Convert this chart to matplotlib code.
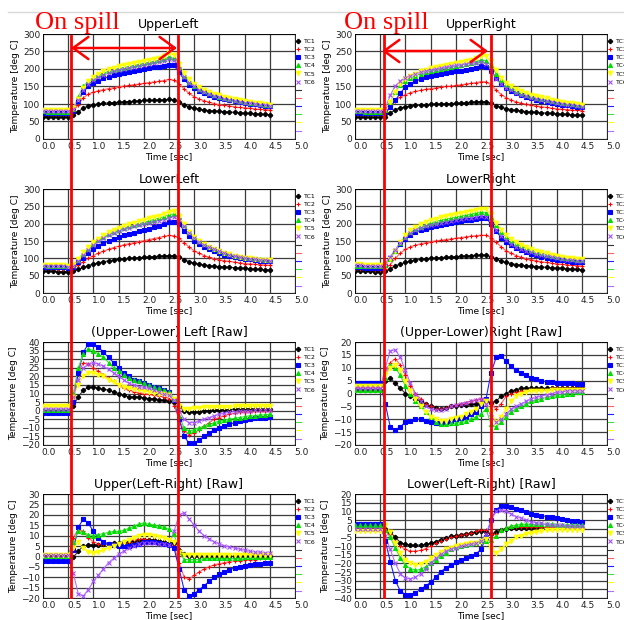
import matplotlib
matplotlib.use('Agg')
import matplotlib.pyplot as plt
from matplotlib.lines import Line2D
from matplotlib.patches import FancyArrowPatch
from matplotlib.transforms import ScaledTranslation

# time axis [sec]
time = [0.0, 0.1, 0.2, 0.3, 0.4, 0.5, 0.6, 0.7, 0.8, 0.9,
        1.0, 1.1, 1.2, 1.3, 1.4, 1.5, 1.6, 1.7, 1.8, 1.9,
        2.0, 2.1, 2.2, 2.3, 2.4, 2.5, 2.6, 2.7, 2.8, 2.9,
        3.0, 3.1, 3.2, 3.3, 3.4, 3.5, 3.6, 3.7, 3.8, 3.9,
        4.0, 4.1, 4.2, 4.3, 4.4, 4.5]

tc_names = ['TC1', 'TC2', 'TC3', 'TC4', 'TC5', 'TC6']

# temperatures [deg C], one row per thermocouple TC1..TC6
upper_left = [
    [64,64,63,63,63,63,68,78,88,95,98,100,102,103,104,105,106,107,108,109,110,110,111,112,112,113,112,106,98,92,88,85,83,81,80,79,78,77,76,75,74,73,72,71,70,69],
    [71,71,70,70,70,70,78,98,118,128,134,138,141,144,147,149,151,153,155,157,159,161,163,165,167,170,168,158,143,130,121,114,109,105,101,98,96,94,92,90,89,88,86,85,84,83],
    [74,74,73,73,73,73,80,108,135,150,160,167,173,178,182,186,189,192,195,198,200,203,205,207,209,212,210,190,170,155,145,137,130,125,121,117,114,111,108,105,103,101,99,97,95,93],
    [79,78,78,77,77,77,86,120,150,165,175,182,188,193,197,201,204,207,210,213,216,219,222,225,228,234,230,205,180,163,152,143,136,130,125,121,117,114,111,108,106,104,102,100,98,97],
    [84,83,83,82,82,82,88,115,145,165,177,186,193,199,204,208,211,214,217,220,223,226,229,232,236,245,240,215,188,170,157,148,140,134,129,125,121,117,114,111,108,106,104,102,100,98],
    [81,80,80,80,80,80,86,112,140,157,168,176,183,188,193,197,200,203,206,209,212,215,218,221,224,229,225,200,177,160,150,141,134,128,123,119,115,112,109,106,104,102,100,98,96,95],
]

upper_right = [
    [63,63,63,62,62,62,64,74,84,89,92,94,96,97,98,99,100,100,101,101,102,103,104,105,106,107,106,102,95,90,87,84,82,80,78,77,76,75,74,73,72,71,70,69,68,68],
    [72,72,71,71,71,71,74,90,108,120,127,132,136,139,142,144,146,148,150,151,153,155,157,159,161,164,163,155,140,127,118,111,106,102,99,96,94,92,90,88,86,85,84,83,82,81],
    [75,75,74,74,74,74,78,92,110,132,148,158,165,171,176,180,183,186,188,190,193,195,198,201,204,208,207,195,175,158,147,138,131,125,120,116,112,109,106,103,100,98,96,94,92,90],
    [79,79,78,78,78,78,82,105,135,155,167,175,181,186,190,194,197,200,203,206,209,212,215,218,221,226,224,210,187,168,155,145,138,132,127,122,118,115,112,109,106,104,102,100,98,96],
    [84,84,83,83,83,83,86,105,135,157,170,180,187,193,198,202,206,209,212,215,218,221,224,227,231,238,237,222,196,175,161,151,143,137,131,127,123,119,116,112,109,106,104,102,100,98],
    [80,80,79,79,79,79,88,125,152,166,175,181,186,190,194,197,200,203,206,208,210,212,214,216,218,221,215,195,172,157,147,139,132,127,122,118,114,111,108,105,102,100,98,96,94,92],
]

lower_left = [
    [64,63,63,62,62,61,63,68,74,79,84,87,90,93,95,97,98,100,101,102,103,104,105,106,107,108,107,103,96,90,86,83,81,79,77,76,75,74,73,72,71,70,69,68,67,66],
    [72,71,71,70,70,69,71,80,90,100,108,115,121,126,131,135,139,142,145,148,151,154,157,160,163,166,165,158,145,132,122,114,108,103,99,96,93,91,89,87,85,84,83,82,81,80],
    [76,75,75,74,74,73,76,88,102,115,126,135,143,150,156,161,166,170,174,178,182,186,190,194,198,204,205,198,180,163,150,140,132,126,120,115,111,107,104,101,99,97,95,93,92,91],
    [80,79,79,78,78,77,80,95,112,128,141,152,161,169,176,182,187,192,196,200,204,208,212,216,220,226,228,218,196,176,162,150,141,133,127,121,116,112,108,105,102,100,98,97,96,95],
    [82,81,81,80,80,79,82,98,117,133,146,157,167,175,182,188,194,199,203,207,211,215,219,223,228,234,236,222,198,177,162,150,141,133,127,121,116,112,108,105,102,100,98,96,95,94],
    [79,78,78,77,77,76,79,93,110,125,138,149,158,166,173,179,184,188,192,196,200,203,206,209,212,217,220,212,192,173,159,148,139,132,126,120,115,111,107,104,101,99,97,95,94,93],
]

lower_right = [
    [64,64,63,63,62,62,63,70,78,84,88,92,95,97,99,100,101,102,103,104,105,106,107,108,109,110,109,105,98,92,88,85,82,80,78,77,76,75,74,73,72,71,70,69,68,67],
    [69,69,68,68,67,67,70,82,100,115,126,133,138,142,145,148,150,152,154,156,158,160,162,164,165,167,166,160,147,133,122,114,108,103,99,96,93,90,88,86,84,83,82,80,79,78],
    [74,74,73,73,72,72,80,100,122,140,155,166,175,181,186,190,194,197,200,203,206,208,210,212,214,217,215,200,178,160,148,138,130,124,118,113,109,105,102,99,96,94,92,90,89,88],
    [79,79,78,78,77,77,82,98,122,145,162,175,184,191,197,202,206,210,213,216,219,222,225,228,231,234,232,218,195,175,162,151,142,135,129,124,119,115,111,108,105,102,100,98,96,95],
    [83,83,82,82,81,81,84,98,122,148,167,181,191,199,205,210,214,218,221,224,227,230,233,236,239,243,242,228,203,181,166,155,146,139,132,127,122,118,114,110,107,104,102,100,98,97],
    [80,80,79,79,78,78,86,105,125,145,160,172,181,188,193,197,200,203,206,209,211,213,215,217,219,222,220,205,182,165,152,142,134,128,122,117,113,109,106,103,100,98,96,94,92,91],
]

# raw differences [deg C]
ul_minus_ll = [
    [0,0,0,0,0,0,3,8,12,13.5,14,13,12.5,12,11,10,9,8,8,8,7.5,7,7,6.5,6,5.5,5,3,0,-1,-1,-0.5,0,0,0.5,0.5,0.5,0.5,1,1,1,1,1,1,1,1],
    [0,0,0,0,0,0,8,22,28,27,25,23,21,19,17,15,13,12,11,10.5,10,9.5,9,8.5,8,7,3,-5,-12,-14,-13,-11,-9,-7,-5,-4,-3,-2,-1.5,-1,-0.5,-0.5,0,0,0,0],
    [-1.5,-1.5,-1.5,-1.5,-1.5,-1.5,5,22,34,39,39,37,34,31,28,25,22,20,18,17,16,15,14,13,12,11,6,-5,-15,-19,-19,-17,-15,-13,-11,-10,-9,-8,-7,-6,-5.5,-5,-4.5,-4,-4,-3.5],
    [0.5,0.5,0.5,0.5,0.5,0.5,10,25,33,36,35,33,31,28,25,23,21,19,18,17,16,15,14,13,12,11,7,-3,-10,-12,-11,-10,-9,-8,-7,-6,-5.5,-5,-4.5,-4,-3.5,-3,-3,-2.5,-2.5,-2],
    [2.5,2.5,2.5,2.5,2.5,2.5,8,15,20,22,22,21,20,18,16.5,15,14,13,12.5,12,11.5,11,10.5,10,9.5,9,7,3,1,1,1.5,1.5,2,2,2,2,2,2,2.5,2.5,2.5,2.5,2.5,2.5,2.5,2.5],
    [1,1,1,1,1,1,8,18,25,27,28,27,26,24,22,20,18,16,15,14,13.5,13,12,11,10,9,6,0,-5,-7,-7,-6,-5,-4,-3,-2,-1.5,-1,-0.5,0,0,0,0.5,0.5,0.5,0.5],
]

ur_minus_lr = [
    [1.5,1.5,1.5,1.5,1.5,1.5,5,6,4,2,0,-1,-2,-3,-4,-5,-5.5,-6,-5.5,-5,-5,-4.5,-4.5,-4,-4,-3.5,-3,-3.5,-3,-1,0,1,1.5,2,2,2,2,2,2,2,2,2,2,2,2,2],
    [2.5,2.5,2.5,2.5,2.5,2.5,8,12,13.5,11,7,3,0,-2,-4,-5,-6,-6,-5.5,-5,-4.5,-4,-3.5,-3,-2.5,-2,-2,-4,-6,-4,-1,0,0.5,1,1,1.5,1.5,1.5,1.5,2,2,2,2,2,2,2],
    [4,4,4,4,4,4,-4,-13,-14,-13,-11,-10.5,-10,-10,-10.5,-11,-11.5,-11.5,-11,-10.5,-10,-9.5,-9,-8,-7,-5,-2,8,14,14.5,12.5,10.5,9,8,7,6,5.5,5,4.5,4.5,4,4,4,4,3.5,3.5],
    [1.5,1.5,1.5,1.5,1.5,1.5,6,11,10,7,3,0,-3,-5,-7,-9,-11,-12,-12,-11.5,-11.5,-11,-10.5,-10,-9,-8,-6,-12,-13,-11,-9,-7,-6,-5,-4,-3,-2.5,-2,-1.5,-1,-0.5,-0.5,0,0,0.5,0.5],
    [3,3,3,3,3,3,7,10,11,9,5,1,-2,-5,-7,-9,-10,-10.5,-10.5,-10,-9.5,-9,-8,-7,-6,-4,-3,-7,-11,-9,-6,-3,-1,0,0.5,1,1,1,1,1.5,1.5,1.5,1.5,1.5,1.5,1.5],
    [2,2,2,2,2,2,10,16.5,17,14,9,4,0,-3,-5,-6,-6.5,-6.5,-6,-5,-4.5,-4,-3.5,-3,-2.5,-2,-4,-9,-11,-10,-8,-6,-5,-4,-3,-2,-1.5,-1,-0.5,0,0.5,0.5,1,1,1,1],
]

ul_minus_ur = [
    [0,0,0,0,0,0,-0.5,2.5,5,5.5,5.5,5.5,6,6,6.5,6.5,7,7,7.5,8,8,8,8,7.5,7,6.5,6.5,3,1,0,0,0,0,0,0,0,0,0,0,0,0,0,0,0,0,0],
    [0,0,0,0,0,0,9,13,12,9,7,6,6,6,6,6,6.5,7,8,8.5,8.5,8,7.5,7,6.5,6,5,-3,-10,-11,-9,-7.5,-6,-5,-4,-3.5,-3,-2.5,-2,-2,-1.5,-1.5,-1.5,-1,-1,-1],
    [-2,-2,-2,-2,-2,-2,3,14,18,16,12,9,7,6,5.5,5,5,5,5.5,6,7,7,7,6.5,6,5.5,4,-6,-16,-19,-18,-16,-14,-12,-10,-8.5,-7.5,-6.5,-5.5,-5,-4.5,-4,-3.5,-3.5,-3,-3],
    [0,0,0,0,0,0,7,12,11.5,10.5,10,10.5,11,11.5,12,12,12.5,13.5,14.5,15.5,16,15.5,15,14.5,14,13,11,2,-1.5,-1.5,-1.5,-1.5,-1,-1,-1,-1,-1,-1,-1,-1,-0.5,-0.5,-0.5,-0.5,-0.5,-0.5],
    [0.5,0.5,0.5,0.5,0.5,0.5,4,7,4,2,1.5,2,3,4,5,6,7,8,9,10,10.5,10.5,10,9.5,9,8,7,2,0.5,0.5,0.5,0.5,0.5,0.5,0.5,0.5,0.5,0.5,0.5,0.5,0.5,0.5,0.5,0.5,0.5,0.5],
    [0.5,0.5,0.5,0.5,0.5,0.5,-8,-18,-19,-16,-12,-9,-6,-3,-1,1,2.5,4,5,6,6.5,6.5,6.5,6,6,5.5,12,20,21,18,15,12,10,8.5,7,6,5,4.5,4,3.5,3,2.5,2,2,1.5,1.5],
]

ll_minus_lr = [
    [0.5,0.5,0.5,0.5,0.5,0.5,0,-2,-5,-8,-9,-9.5,-9.5,-9.5,-9,-8.5,-7.5,-6.5,-5.5,-4.5,-4,-3.5,-3,-2.5,-2,-1.5,-2,-3,-2,-0.5,0,0.5,0.5,0.5,0.5,0.5,0.5,0.5,0.5,0.5,0.5,0.5,0.5,0.5,0.5,0.5],
    [1,1,1,1,1,1,0,-3,-7,-10,-12,-13,-13,-12.5,-11.5,-10,-8.5,-7,-6,-5,-4,-3.5,-3,-2.5,-1.5,-0.5,-1,-3,-3,-1,0.5,1,1,1,1,1,1,1,1,1,1,1,1,1,1,1],
    [2.5,2.5,2.5,2.5,2.5,2.5,-7,-19,-30,-36,-38,-38,-37,-35,-33,-31,-28,-25,-22.5,-21,-19.5,-18,-17,-16,-14.5,-12,-5,5,11,13,13,12.5,11.5,10.5,9.5,8.5,8,7.5,7,6.5,6,5.5,5,4.5,4.5,4],
    [2,2,2,2,2,2,-1,-5,-11,-17,-21,-23,-24,-23.5,-22,-20,-18,-16,-14,-12,-10.5,-10,-9.5,-9,-8,-7,-7,-6.5,-4,-1,0.5,1.5,2,2.5,2.5,2.5,2.5,2.5,2.5,2.5,2,2,2,2,2,2],
    [-1.5,-1.5,-1.5,-1.5,-1.5,-1.5,2,-2,-8,-14,-18,-20,-21,-20.5,-19,-17,-15,-13.5,-12,-11,-10,-9.5,-9,-8.5,-8,-7,-6,-12,-14,-12,-9,-7,-5,-4,-3,-2.5,-2,-1.5,-1,-1,-0.5,-0.5,-0.5,-0.5,-0.5,-0.5],
    [0,0,0,0,0,0,-4,-12,-20,-26,-28.5,-29,-28,-26,-23,-20,-17,-14.5,-13,-12,-11,-10,-9.5,-9,-8.5,-7,-3,5,10,11,10,8.5,7,6,5,4,3.5,3,2.5,2,2,2,1.5,1.5,1.5,1.5],
]

titles = ['UpperLeft', 'UpperRight', 'LowerLeft', 'LowerRight',
          '(Upper-Lower) Left [Raw]', '(Upper-Lower)Right [Raw]',
          'Upper(Left-Right) [Raw]', 'Lower(Left-Right) [Raw]']
panels = [upper_left, upper_right, lower_left, lower_right,
          ul_minus_ll, ur_minus_lr, ul_minus_ur, ll_minus_lr]
ylims = [(0, 300), (0, 300), (0, 300), (0, 300),
         (-20, 40), (-20, 20), (-20, 30), (-40, 20)]
ysteps = [50, 50, 50, 50, 5, 5, 5, 5]

# marker style / colour per thermocouple
mk_colors = ['black', 'red', 'blue', '#00dd00', '#ffff00', '#a64dff']
ln_colors = ['#333333', '#ff6060', '#2020ff', '#40e040', '#ffff20', '#b070ff']
markers = ['P', '+', 's', '^', 'v', 'x']
msizes = [3.0, 2.6, 2.4, 2.9, 3.3, 2.6]

fig = plt.figure(figsize=(6.24, 6.2), dpi=100)

W, H = 624.0, 620.0
col_left = [43, 355]
col_w = 252
rows = [(34, 139), (189, 293), (342, 445), (494, 598)]
shift = ScaledTranslation(6 / 100.0, 0, fig.dpi_scale_trans)

for k in range(8):
    r, c = k // 2, k % 2
    top, bot = rows[r]
    ax = fig.add_axes([col_left[c] / W, 1 - bot / H, col_w / W, (bot - top) / H])
    data = panels[k]
    for i in range(6):
        ax.plot(time, data[i], '-', color=ln_colors[i], lw=0.8, zorder=2)
        ax.plot(time, data[i], linestyle='none', marker=markers[i],
                color=mk_colors[i], ms=msizes[i], mew=0.8, zorder=3)
    lo, hi = ylims[k]
    ax.set_xlim(0, 5)
    ax.set_ylim(lo, hi)
    ax.set_xticks([x * 0.5 for x in range(11)])
    ax.set_xticklabels(['%.1f' % (x * 0.5) for x in range(11)])
    ax.set_yticks(list(range(lo, hi + 1, ysteps[k])))
    ax.grid(True, color='#3c3c3c', lw=0.9)
    ax.set_axisbelow(True)
    ax.tick_params(labelsize=6.5, length=0, pad=2, colors='#222222')
    for lab in ax.get_xticklabels():
        lab.set_transform(lab.get_transform() + shift)
    for s in ax.spines.values():
        s.set_linewidth(0.6)
    ax.set_title(titles[k], fontsize=9, pad=4)
    ax.set_xlabel('Time [sec]', fontsize=6.5, labelpad=1)
    ax.set_ylabel('Temperature [deg C]', fontsize=6.5, labelpad=2)

    handles = [Line2D([], [], linestyle='none', marker=markers[i], color=mk_colors[i],
                      ms=msizes[i], mew=0.8) for i in range(6)]
    handles += [Line2D([], [], color=ln_colors[i], lw=0.8) for i in range(6)]
    ax.legend(handles, tc_names + [''] * 6, loc='upper left', bbox_to_anchor=(1.0, 0.97),
              frameon=False, fontsize=4.5, handlelength=0.7, handletextpad=0.6,
              labelspacing=0.45, borderaxespad=0.1, borderpad=0.1)

# on-spill markers
red = '#ff0000'
for x0, x1 in [(71, 178), (383.5, 491)]:
    for xx in (x0, x1):
        fig.add_artist(Line2D([xx / W, xx / W], [1 - 36 / H, 1 - 597 / H],
                              color=red, lw=2, transform=fig.transFigure, zorder=10))
for x0, x1, yy in [(71, 177, 48), (382, 488, 51)]:
    fig.add_artist(FancyArrowPatch((x0 / W, 1 - yy / H), (x1 / W, 1 - yy / H),
                                   transform=fig.transFigure, color=red, lw=1.8,
                                   arrowstyle='<->,head_length=1.1,head_width=0.8',
                                   mutation_scale=10, shrinkA=0, shrinkB=0, zorder=10))
for xx in (35, 344):
    fig.text(xx / W, 1 - 29 / H, 'On spill', color=red, fontsize=19,
             family='Liberation Serif', va='baseline', ha='left')

fig.add_artist(Line2D([8 / W, 1], [1 - 12 / H, 1 - 12 / H], color='#d8d8d8', lw=1,
                      transform=fig.transFigure))

fig.savefig('out.png', dpi=100)
